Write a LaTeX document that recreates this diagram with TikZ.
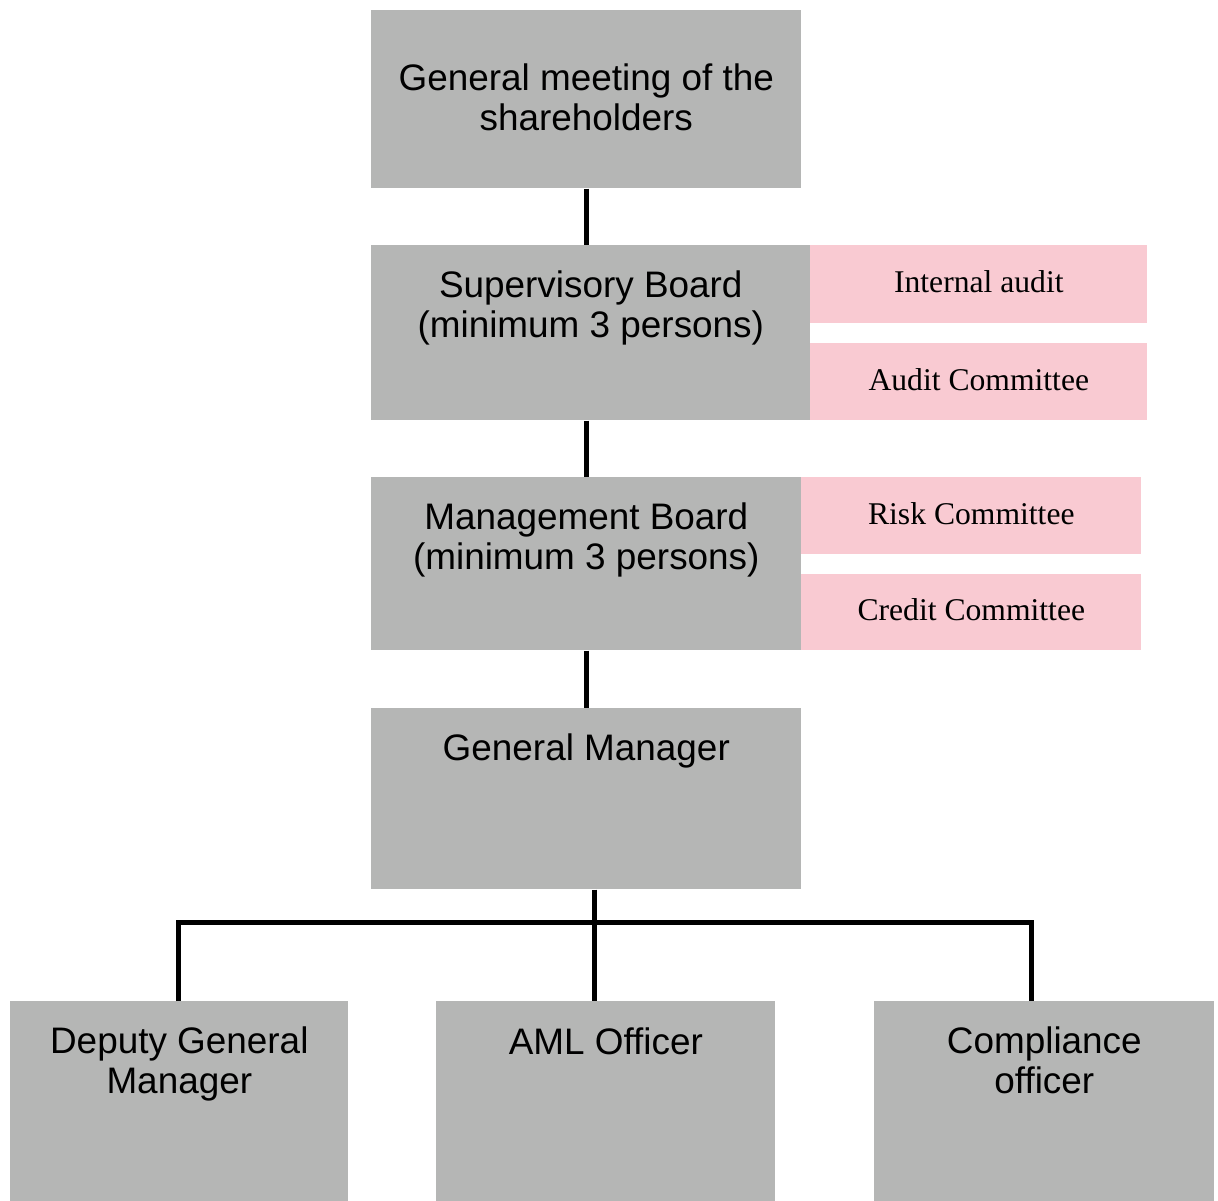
\documentclass[tikz,border=0pt]{standalone}
\usepackage{fontspec}
\setmainfont{Liberation Sans}
\newfontfamily\timesfont{Liberation Serif}
\usepackage{tikz}
\usetikzlibrary{calc,positioning}
\definecolor{boxgray}{RGB}{181,182,181}
\definecolor{boxpink}{RGB}{249,202,210}
\tikzset{
	-,
	graybox/.style={fill=boxgray, anchor=north west, inner sep=0pt},
	pinkbox/.style={fill=boxpink, anchor=north west, inner sep=0pt, align=center, text depth=0.1cm,
		font=\timesfont\fontsize{18}{20}\selectfont},
	boxtext/.style={font=\fontsize{21}{22.8}\selectfont, align=center, anchor=center, inner sep=0pt},
	link/.style={line width=0.1cm},
}

\begin{document}
\begin{tikzpicture}[
            x=0.02cm,
            y=-0.02cm
        ]
        \useasboundingbox (0,0) rectangle (1218,1201);
        \node[graybox, minimum width=8.6cm, minimum height=3.56cm,
            label={[boxtext, yshift=-1.75cm]north:{General meeting of the\\shareholders}}] (gms) at (371,10) {};
        \node[graybox, minimum width=8.78cm, minimum height=3.5cm,
            label={[boxtext, yshift=-1.26cm]north:{Supervisory Board\\(minimum 3 persons)}}] (sb) at (371,245) {};
        \node[pinkbox, minimum width=6.74cm, minimum height=1.56cm] (ia) at (810,245) {Internal audit};
        \node[pinkbox, minimum width=6.74cm, minimum height=1.54cm] (ac) at (810,343) {Audit Committee};
        \node[graybox, minimum width=8.6cm, minimum height=3.46cm,
            label={[boxtext, yshift=-1.26cm]north:{Management Board\\(minimum 3 persons)}}] (mb) at (371,477) {};
        \node[pinkbox, minimum width=6.8cm, minimum height=1.54cm] (rc) at (801,477) {Risk Committee};
        \node[pinkbox, minimum width=6.8cm, minimum height=1.52cm] (cc) at (801,574) {Credit Committee};
        \node[graybox, minimum width=8.6cm, minimum height=3.62cm,
            label={[boxtext, yshift=-0.86cm]north:{General Manager}}] (gm) at (371,708) {};
        \node[graybox, minimum width=6.76cm, minimum height=4cm,
            label={[boxtext, yshift=-1.25cm]north:{Deputy General\\Manager}}] (dgm) at (10,1001) {};
        \node[graybox, minimum width=6.78cm, minimum height=4cm,
            label={[boxtext, yshift=-0.8cm]north:{AML Officer}}] (aml) at (436,1001) {};
        \node[graybox, minimum width=6.8cm, minimum height=4cm,
            label={[boxtext, yshift=-1.18cm]north:{Compliance\\officer}}] (co) at (874,1001) {};

        \coordinate (busl) at (178,922);
        \coordinate (busm) at (594,922);
        \coordinate (busr) at (1031,922);

        \draw[link] (gms.south) -- (gms.south |- sb.north);
        \draw[link] (mb.north |- sb.south) -- (mb.north);
        \draw[link] (mb.south) -- (gm.north);
        \draw[link] (busm |- gm.south) -- (busm |- aml.north);
        \draw[link] (busl |- dgm.north) -- (busl) -- (busr) -- (busr |- co.north);
    \end{tikzpicture}
\end{document}
